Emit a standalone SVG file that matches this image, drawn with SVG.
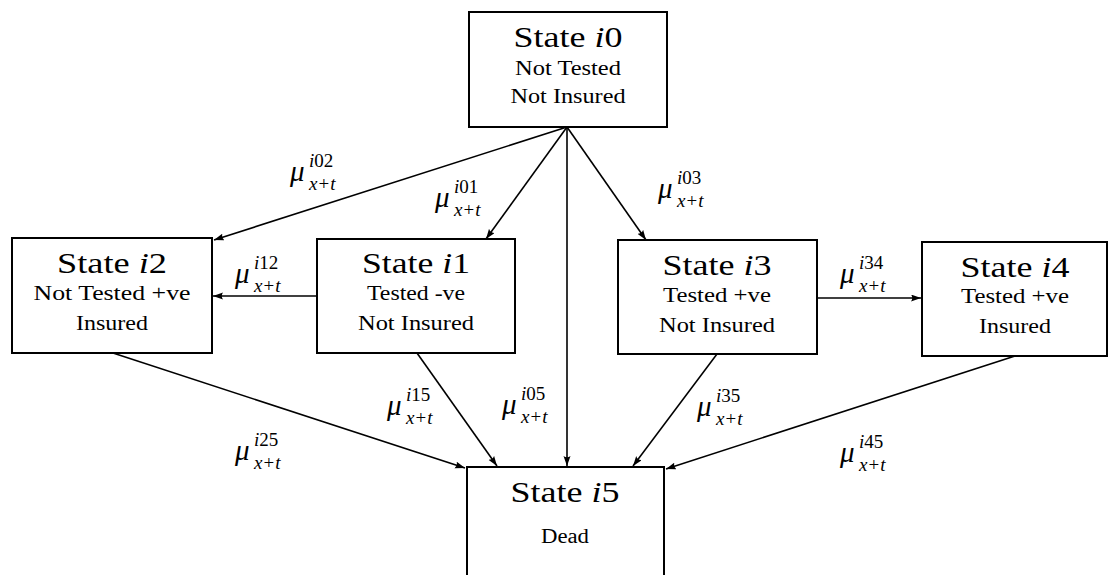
<svg xmlns="http://www.w3.org/2000/svg" width="1109" height="575" viewBox="0 0 1109 575" font-family="Liberation Serif, DejaVu Serif, Noto Serif, serif">
<style>
.box{fill:#fff;stroke:#000;stroke-width:2}
.ttl{font-size:29px;text-anchor:middle;fill:#000}
.sub{font-size:20px;text-anchor:middle;fill:#000}
.it{font-style:italic}
.mu{font-size:29px;font-style:italic;fill:#000}
.sc{font-size:19px;font-style:normal}
.sb{font-size:19px;font-style:normal;letter-spacing:1px}
.edge{fill:none;stroke:#000;stroke-width:1.6;marker-end:url(#ah)}
</style>
<defs>
<marker id="ah" markerUnits="userSpaceOnUse" markerWidth="11" markerHeight="8" refX="10" refY="3.5" orient="auto">
<path d="M0,0 L10,3.5 L0,7 Q2.5,3.5 0,0 Z" fill="#000"/>
</marker>
</defs>
<rect width="1109" height="575" fill="#fff"/>
<g id="connectors">
<line class="edge" x1="567" y1="127" x2="214" y2="240"/>
<line class="edge" x1="567" y1="127" x2="486" y2="239"/>
<line class="edge" x1="567" y1="127" x2="567" y2="466"/>
<line class="edge" x1="567" y1="127" x2="646" y2="240"/>
<line class="edge" x1="317" y1="296" x2="213" y2="296"/>
<line class="edge" x1="817" y1="298" x2="921" y2="298"/>
<line class="edge" x1="113" y1="353" x2="465" y2="468"/>
<line class="edge" x1="417" y1="353" x2="497" y2="466"/>
<line class="edge" x1="717" y1="354" x2="633" y2="466"/>
<line class="edge" x1="1015" y1="356" x2="666" y2="469"/>
</g>
<g id="labels" font-family="Liberation Serif, serif">
<g transform="translate(290,181)"><text class="mu">μ<tspan class="sc" x="19" dy="-14"><tspan class="it">i</tspan>02</tspan><tspan class="sb" x="19" dy="23"><tspan class="it">x</tspan>+<tspan class="it">t</tspan></tspan></text></g>
<g transform="translate(435,207)"><text class="mu">μ<tspan class="sc" x="19" dy="-14"><tspan class="it">i</tspan>01</tspan><tspan class="sb" x="19" dy="23"><tspan class="it">x</tspan>+<tspan class="it">t</tspan></tspan></text></g>
<g transform="translate(658,198)"><text class="mu">μ<tspan class="sc" x="19" dy="-14"><tspan class="it">i</tspan>03</tspan><tspan class="sb" x="19" dy="23"><tspan class="it">x</tspan>+<tspan class="it">t</tspan></tspan></text></g>
<g transform="translate(235,283)"><text class="mu">μ<tspan class="sc" x="19" dy="-14"><tspan class="it">i</tspan>12</tspan><tspan class="sb" x="19" dy="23"><tspan class="it">x</tspan>+<tspan class="it">t</tspan></tspan></text></g>
<g transform="translate(840,283)"><text class="mu">μ<tspan class="sc" x="19" dy="-14"><tspan class="it">i</tspan>34</tspan><tspan class="sb" x="19" dy="23"><tspan class="it">x</tspan>+<tspan class="it">t</tspan></tspan></text></g>
<g transform="translate(387,415)"><text class="mu">μ<tspan class="sc" x="19" dy="-14"><tspan class="it">i</tspan>15</tspan><tspan class="sb" x="19" dy="23"><tspan class="it">x</tspan>+<tspan class="it">t</tspan></tspan></text></g>
<g transform="translate(502,414)"><text class="mu">μ<tspan class="sc" x="19" dy="-14"><tspan class="it">i</tspan>05</tspan><tspan class="sb" x="19" dy="23"><tspan class="it">x</tspan>+<tspan class="it">t</tspan></tspan></text></g>
<g transform="translate(235,460)"><text class="mu">μ<tspan class="sc" x="19" dy="-14"><tspan class="it">i</tspan>25</tspan><tspan class="sb" x="19" dy="23"><tspan class="it">x</tspan>+<tspan class="it">t</tspan></tspan></text></g>
<g transform="translate(697,416)"><text class="mu">μ<tspan class="sc" x="19" dy="-14"><tspan class="it">i</tspan>35</tspan><tspan class="sb" x="19" dy="23"><tspan class="it">x</tspan>+<tspan class="it">t</tspan></tspan></text></g>
<g transform="translate(840,462)"><text class="mu">μ<tspan class="sc" x="19" dy="-14"><tspan class="it">i</tspan>45</tspan><tspan class="sb" x="19" dy="23"><tspan class="it">x</tspan>+<tspan class="it">t</tspan></tspan></text></g>
</g>
<g id="state-i0">
<rect class="box" x="469" y="12" width="198" height="115"/>
<text class="ttl" x="568" y="47" textLength="109" lengthAdjust="spacingAndGlyphs">State <tspan class="it">i</tspan>0</text>
<text class="sub" x="568" y="75" textLength="106" lengthAdjust="spacingAndGlyphs">Not Tested</text>
<text class="sub" x="568" y="103" textLength="115" lengthAdjust="spacingAndGlyphs">Not Insured</text>
</g>
<g id="state-i2">
<rect class="box" x="12" y="238" width="200" height="115"/>
<text class="ttl" x="112" y="273" textLength="110" lengthAdjust="spacingAndGlyphs">State <tspan class="it">i</tspan>2</text>
<text class="sub" x="112" y="300" textLength="157" lengthAdjust="spacingAndGlyphs">Not Tested +ve</text>
<text class="sub" x="112" y="330" textLength="72" lengthAdjust="spacingAndGlyphs">Insured</text>
</g>
<g id="state-i1">
<rect class="box" x="317" y="239" width="198" height="114"/>
<text class="ttl" x="416" y="273" textLength="108" lengthAdjust="spacingAndGlyphs">State <tspan class="it">i</tspan>1</text>
<text class="sub" x="416" y="300" textLength="98" lengthAdjust="spacingAndGlyphs">Tested -ve</text>
<text class="sub" x="416" y="330" textLength="116" lengthAdjust="spacingAndGlyphs">Not Insured</text>
</g>
<g id="state-i3">
<rect class="box" x="618" y="240" width="199" height="114"/>
<text class="ttl" x="717" y="275" textLength="109" lengthAdjust="spacingAndGlyphs">State <tspan class="it">i</tspan>3</text>
<text class="sub" x="717" y="302" textLength="108" lengthAdjust="spacingAndGlyphs">Tested +ve</text>
<text class="sub" x="717" y="332" textLength="116" lengthAdjust="spacingAndGlyphs">Not Insured</text>
</g>
<g id="state-i4">
<rect class="box" x="922" y="242" width="185" height="114"/>
<text class="ttl" x="1015" y="277" textLength="109" lengthAdjust="spacingAndGlyphs">State <tspan class="it">i</tspan>4</text>
<text class="sub" x="1015" y="303" textLength="108" lengthAdjust="spacingAndGlyphs">Tested +ve</text>
<text class="sub" x="1015" y="333" textLength="72" lengthAdjust="spacingAndGlyphs">Insured</text>
</g>
<g id="state-i5">
<rect class="box" x="467" y="467" width="197" height="130"/>
<text class="ttl" x="565" y="502" textLength="109" lengthAdjust="spacingAndGlyphs">State <tspan class="it">i</tspan>5</text>
<text class="sub" x="565" y="543" textLength="48" lengthAdjust="spacingAndGlyphs">Dead</text>
</g>
</svg>
